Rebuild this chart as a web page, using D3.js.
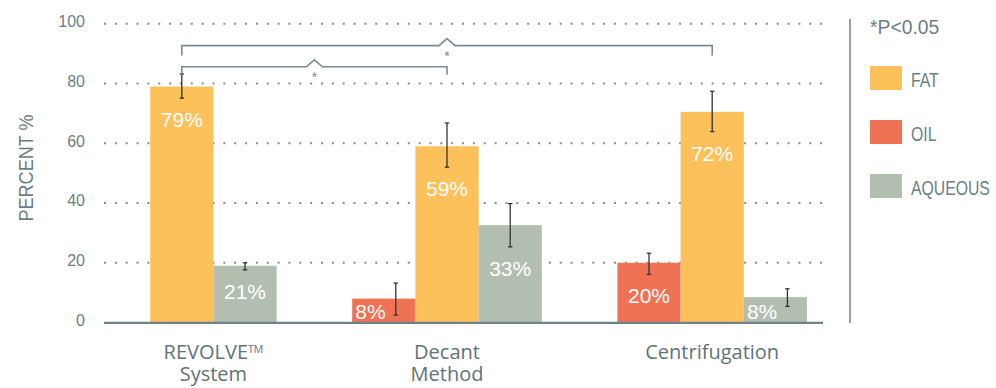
<!DOCTYPE html>
<html>
<head>
<meta charset="utf-8">
<script src="https://cdn.jsdelivr.net/npm/d3@7"></script>
<style>
  html, body { margin: 0; padding: 0; background: #ffffff; }
  svg { display: block; }
</style>
</head>
<body>
<svg id="chart" width="996" height="388"></svg>
<script>
// ---------------- DATA ----------------
const categories = ["REVOLVE™ System", "Decant Method", "Centrifugation"];
const categoryLines = [["REVOLVE", "System"], ["Decant", "Method"], ["Centrifugation"]];
const seriesNames = ["OIL", "FAT", "AQUEOUS"];
const legendOrder = ["FAT", "OIL", "AQUEOUS"];

const oilValues     = [null, 8, 20];
const fatValues     = [79, 59, 70.5];
const aqueousValues = [19, 32.6, 8.5];

const oilErrLow      = [null, 2.5, 16.1];
const oilErrHigh     = [null, 13.2, 23.2];
const fatErrLow      = [75.1, 52.0, 63.9];
const fatErrHigh     = [83.2, 66.8, 77.4];
const aqueousErrLow  = [17.6, 25.3, 5.4];
const aqueousErrHigh = [20.0, 39.8, 11.3];

const oilLabels     = [null, "8%", "20%"];
const fatLabels     = ["79%", "59%", "72%"];
const aqueousLabels = ["21%", "33%", "8%"];

const yTicks = [0, 20, 40, 60, 80, 100];
const yAxisTitle = "PERCENT %";
const significanceNote = "*P<0.05";
// comparisons between FAT bars: [from category, to category, mark]
const comparisons = [[0, 1, "*"], [0, 2, "*"]];

// ---------------- STYLE ----------------
const colors = { FAT: "#FDC15B", OIL: "#F07254", AQUEOUS: "#B2BFB0" };
const greyText = "#6B7F85";
const axisColor = "#6E8388";
const narrowFont = "'Liberation Sans', Arial, sans-serif";

const table = seriesNames.map(s => {
  const v = s === "OIL" ? oilValues : s === "FAT" ? fatValues : aqueousValues;
  const lo = s === "OIL" ? oilErrLow : s === "FAT" ? fatErrLow : aqueousErrLow;
  const hi = s === "OIL" ? oilErrHigh : s === "FAT" ? fatErrHigh : aqueousErrHigh;
  const lb = s === "OIL" ? oilLabels : s === "FAT" ? fatLabels : aqueousLabels;
  return categories.map((c, i) => ({ series: s, cat: c, ci: i, value: v[i], lo: lo[i], hi: hi[i], label: lb[i] }));
}).flat().filter(d => d.value != null);

const svg = d3.select("#chart");

const y = d3.scaleLinear().domain([0, 100]).range([322.5, 23.8]);
const x0 = d3.scaleBand().domain(categories).range([87, 807]).paddingInner(0.285).paddingOuter(0);
const x1 = d3.scaleBand().domain(seriesNames).range([0, x0.bandwidth()]).padding(0);
const bw = x1.bandwidth();
const plotLeft = 104, plotRight = 824;

// gridlines (dotted)
svg.append("g").selectAll("line").data(yTicks.filter(t => t > 0)).join("line")
  .attr("x1", plotLeft).attr("x2", plotRight)
  .attr("y1", d => y(d)).attr("y2", d => y(d))
  .attr("stroke", "#7E9096").attr("stroke-width", 2)
  .attr("stroke-dasharray", "2 8.85");

// y tick labels
const yAxis = d3.axisLeft(y).tickValues(yTicks).tickSize(0).tickPadding(0);
const gy = svg.append("g").attr("transform", "translate(85,0)").call(yAxis);
gy.select(".domain").remove();
gy.selectAll("text")
  .attr("font-family", "'Liberation Sans', Arial, sans-serif")
  .attr("font-size", 16).attr("fill", greyText)
  .attr("dy", "0.17em");

// y axis title (condensed)
svg.append("text")
  .attr("transform", "translate(33,168) rotate(-90) scale(0.86,1)")
  .attr("text-anchor", "middle")
  .attr("font-family", narrowFont)
  .attr("font-size", 21).attr("fill", greyText)
  .text(yAxisTitle);

// bars
const barX = d => x0(d.cat) + x1(d.series);
svg.append("g").selectAll("rect").data(table).join("rect")
  .attr("x", barX).attr("width", bw)
  .attr("y", d => y(d.value)).attr("height", d => y(0) - y(d.value))
  .attr("fill", d => colors[d.series]);

// label positions
const labelInfo = d => {
  const natural = y(d.lo) + 29;
  const floor = y(0) - 3.5;
  const clamped = natural > floor;
  return { base: clamped ? floor : natural, clamped };
};

// error bars
const eb = svg.append("g").attr("stroke", "#333").attr("stroke-width", 1.3);
table.forEach(d => {
  const info = labelInfo(d);
  const cx = barX(d) + bw / 2 + (info.clamped ? bw * 0.19 : 0);
  eb.append("line").attr("x1", cx).attr("x2", cx).attr("y1", y(d.hi)).attr("y2", y(d.lo));
  eb.append("line").attr("x1", cx - 2.2).attr("x2", cx + 2.2).attr("y1", y(d.hi)).attr("y2", y(d.hi));
  eb.append("line").attr("x1", cx - 2.2).attr("x2", cx + 2.2).attr("y1", y(d.lo)).attr("y2", y(d.lo));
});

// bar value labels
svg.append("g").selectAll("text").data(table).join("text")
  .attr("x", d => barX(d) + bw / 2 - (labelInfo(d).clamped ? bw * 0.21 : 0))
  .attr("y", d => labelInfo(d).base)
  .attr("text-anchor", "middle")
  .attr("font-family", "'Liberation Sans', Arial, sans-serif")
  .attr("font-size", 21).attr("fill", "#ffffff")
  .text(d => d.label);

// baseline
svg.append("line")
  .attr("x1", plotLeft).attr("x2", plotRight - 1)
  .attr("y1", y(0) + 0.3).attr("y2", y(0) + 0.3)
  .attr("stroke", axisColor).attr("stroke-width", 2.2);

// category labels
categories.forEach((c, i) => {
  const present = table.filter(d => d.ci === i);
  const cx = d3.mean(present, d => barX(d) + bw / 2);
  categoryLines[i].forEach((line, k) => {
    const t = svg.append("text")
      .attr("x", cx).attr("y", 359 + k * 21.5)
      .attr("text-anchor", "middle")
      .attr("font-family", "'Open Sans', 'Noto Sans', sans-serif")
      .attr("font-size", 20).attr("font-weight", 500).attr("fill", "#5F7379");
    t.append("tspan").text(line);
    if (i === 0 && k === 0) {
      t.append("tspan").attr("font-size", 10.5).attr("dy", -6.5).text("TM");
    }
  });
});

// significance brackets (between FAT bars)
const fatCenter = ci => x0(categories[ci]) + x1("FAT") + bw / 2;
const br = svg.append("g");
comparisons.forEach(([a, b, mark], k) => {
  const level = k === 0 ? y(85.6) : y(92.7);
  const drop = k === 0 ? 8 : 10;
  const xa = fatCenter(a), xb = fatCenter(b);
  const mid = (xa + xb) / 2;
  const path = d3.path();
  path.moveTo(xa, level + drop);
  path.lineTo(xa, level);
  path.lineTo(mid - 8, level);
  path.lineTo(mid, level - 7);
  path.lineTo(mid + 8, level);
  path.lineTo(xb, level);
  path.lineTo(xb, level + drop);
  br.append("path").attr("d", path.toString())
    .attr("fill", "none").attr("stroke", "#7A8C92").attr("stroke-width", 1.6);
  br.append("text").attr("x", mid).attr("y", level + 15)
    .attr("text-anchor", "middle")
    .attr("font-family", "'Liberation Sans', Arial, sans-serif")
    .attr("font-size", 14).attr("fill", "#7A8C92")
    .text(mark);
});

// legend
const lg = svg.append("g");
lg.append("line").attr("x1", 850).attr("x2", 850).attr("y1", 19).attr("y2", 323)
  .attr("stroke", "#7A8C92").attr("stroke-width", 1.6);
lg.append("text").attr("transform", "translate(870,34) scale(0.92,1)")
  .attr("font-family", narrowFont)
  .attr("font-size", 21).attr("fill", greyText)
  .text(significanceNote);
legendOrder.forEach((s, i) => {
  const yy = 66 + i * 54;
  lg.append("rect").attr("x", 870).attr("y", yy).attr("width", 32).attr("height", 24)
    .attr("fill", colors[s]);
  lg.append("text").attr("transform", `translate(911,${yy + 20.7}) scale(0.77,1)`)
    .attr("font-family", narrowFont)
    .attr("font-size", 20.5).attr("fill", greyText)
    .text(s);
});
</script>
</body>
</html>
